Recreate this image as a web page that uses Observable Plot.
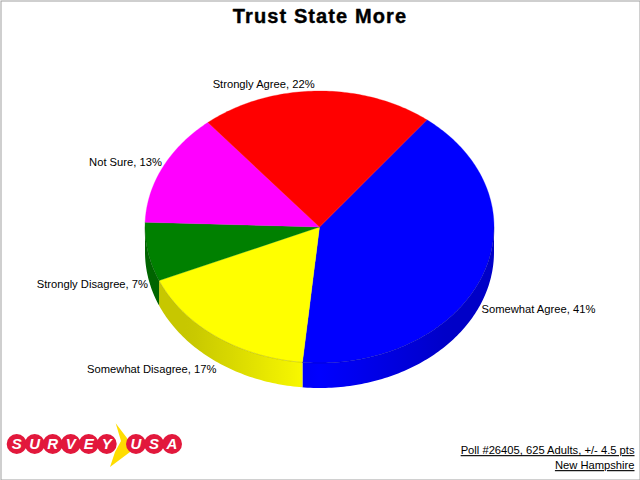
<!DOCTYPE html>
<html>
<head>
<meta charset="utf-8">
<script src="https://cdn.jsdelivr.net/npm/d3@7"></script>
<script src="https://cdn.jsdelivr.net/npm/@observablehq/plot@0.6"></script>
<style>
html, body { margin: 0; padding: 0; background: #fff; }
svg { display: block; }
</style>
</head>
<body>
<div id="chart"></div>
<script>
// ---- data ----
const categories = ["Somewhat Agree", "Somewhat Disagree", "Strongly Disagree", "Not Sure", "Strongly Agree"];
const values = [41, 17, 7, 13.4, 21.6];
const sliceColors = ["#0000ff", "#ffff00", "#008000", "#ff00ff", "#ff0000"];
const chartTitle = "Trust State More";
const footerLines = ["Poll #26405, 625 Adults, +/- 4.5 pts", "New Hampshire"];
const logoWord1 = ["S", "U", "R", "V", "E", "Y"];
const logoWord2 = ["U", "S", "A"];

// ---- pie geometry ----
const cx = 319, cy = 226.5, rx = 174.5, ry = 136, depth = 25, startDeg = 38;
const labelFont = "Liberation Sans, Arial, sans-serif";
const labelSize = 11.2, labelGap = 3;
const pt = (deg, dy = 0) => {
  const a = deg * Math.PI / 180;
  return {x: cx + rx * Math.sin(a), y: cy - ry * Math.cos(a) + dy};
};
const range = (a, b) => {
  const out = [];
  for (let d = a; d < b; d += 1) out.push(d);
  out.push(b);
  return out;
};

const total = d3.sum(values);
let acc = startDeg;
let labelAcc = startDeg;
const slices = categories.map((name, i) => {
  const a0 = acc;
  const a1 = acc + values[i] / total * 360;
  acc = a1;
  const shown = Math.round(values[i]);
  const mid = labelAcc + shown / 100 * 180;
  labelAcc += shown / 100 * 360;
  return {name, value: values[i], shown, color: sliceColors[i], a0, a1, mid};
});

const topPoints = slices.flatMap(s => [
  {name: s.name, x: cx, y: cy},
  ...range(s.a0, s.a1).map(d => ({name: s.name, ...pt(d)}))
]);

// walls: only the part of each slice that faces the viewer (90..270 degrees)
const wallOf = s => {
  const a = Math.max(s.a0, 90), b = Math.min(s.a1, 270);
  if (a >= b) return null;
  const arc = range(a, b);
  return [...arc.map(d => pt(d)), ...arc.slice().reverse().map(d => pt(d, depth))];
};
const rimOf = s => {
  const a = Math.max(s.a0, 90), b = Math.min(s.a1, 270);
  return a < b ? range(a, b).map(d => pt(d)) : [];
};

const shade = (color, deg) => {
  const k = 1 - 0.22 * Math.min(1, 1.35 * Math.abs(Math.sin(deg * Math.PI / 180)));
  const c = d3.rgb(color);
  return d3.rgb(c.r * k, c.g * k, c.b * k).formatHex();
};

const walls = slices.map((s, i) => ({s, i, pts: wallOf(s)})).filter(d => d.pts);

const gradients = () => {
  const defs = d3.create("svg:defs");
  walls.forEach(({s, i}) => {
    const a = Math.max(s.a0, 90), b = Math.min(s.a1, 270);
    const g = defs.append("linearGradient")
      .attr("id", "wall" + i)
      .attr("gradientUnits", "userSpaceOnUse")
      .attr("x1", pt(a).x).attr("x2", pt(b).x).attr("y1", 0).attr("y2", 0);
    range(a, b).filter((d, j) => j % 5 === 0).forEach(d => {
      g.append("stop")
        .attr("offset", (pt(d).x - pt(a).x) / (pt(b).x - pt(a).x))
        .attr("stop-color", shade(s.color, d));
    });
    g.append("stop").attr("offset", 1).attr("stop-color", shade(s.color, b));
  });
  return defs.node();
};

// labels are attached to the pie's rim at each slice's mid angle
const labels = slices.map(s => {
  const lower = Math.cos(s.mid * Math.PI / 180) < 0;
  const p = pt(s.mid, lower ? depth + labelGap : -labelGap);
  return {text: `${s.name}, ${s.shown}%`, x: p.x, y: p.y, lower, right: Math.sin(s.mid * Math.PI / 180) > 0};
});
const labelMark = (filter, lineAnchor, textAnchor) => Plot.text(labels.filter(filter), {
  x: "x", y: "y", text: "text", lineAnchor, textAnchor,
  fontFamily: labelFont, fontSize: labelSize, fill: "#000"
});

// logo
const logoStep = 18, logoX0 = 16.2, logoX1 = 135.5, logoY = 443.5;
const logoLetters = [
  ...logoWord1.map((t, i) => ({t, x: logoX0 + i * logoStep})),
  ...logoWord2.map((t, i) => ({t, x: logoX1 + i * logoStep}))
];
const logoBolt = [
  {x: 115.2, y: 422.8}, {x: 129.5, y: 441.5}, {x: 129.5, y: 451.5},
  {x: 109.5, y: 466.5}, {x: 114.5, y: 451.5}, {x: 120.5, y: 440.5}
];

const underline = (index, scales, channels, dimensions, context, next) => {
  const g = next(index, scales, channels, dimensions, context);
  d3.select(g).selectAll("text").style("text-decoration", "underline");
  return g;
};
const spaced = (index, scales, channels, dimensions, context, next) => {
  const g = next(index, scales, channels, dimensions, context);
  d3.select(g).selectAll("text").style("letter-spacing", "1.1px");
  return g;
};

const chart = Plot.plot({
  width: 640,
  height: 480,
  margin: 0,
  x: {domain: [0, 640], range: [0, 640], axis: null},
  y: {domain: [0, 480], range: [0, 480], axis: null},
  color: {domain: categories, range: sliceColors},
  style: {background: "#fff"},
  marks: [
    gradients,
    Plot.frame({stroke: "#a0a0a0", strokeWidth: 1, inset: 0.5}),
    ...walls.map(({i, pts}) => Plot.line(pts, {
      x: "x", y: "y", curve: "linear-closed", fill: `url(#wall${i})`, stroke: "none"
    })),
    Plot.line(topPoints, {
      x: "x", y: "y", z: "name", fill: "name", stroke: "name", strokeWidth: 0.3, curve: "linear-closed"
    }),
    ...slices.filter(s => rimOf(s).length).map(s => Plot.line(rimOf(s), {
      x: "x", y: "y", stroke: "#000", strokeOpacity: 0.25, strokeWidth: 0.6
    })),
    labelMark(d => !d.lower && !d.right, "bottom", "end"),
    labelMark(d => !d.lower && d.right, "bottom", "start"),
    labelMark(d => d.lower && !d.right, "top", "end"),
    labelMark(d => d.lower && d.right, "top", "start"),
    Plot.text([chartTitle], {
      x: () => 319.5, y: () => 16, text: d => d,
      fontFamily: labelFont, fontSize: 20, fontWeight: "bold", fill: "#000",
      stroke: "#000", strokeWidth: 0.4, render: spaced
    }),
    Plot.text(footerLines, {
      x: () => 634, y: (d, i) => 450 + i * 15, text: d => d, textAnchor: "end",
      fontFamily: labelFont, fontSize: labelSize, fill: "#000", render: underline
    }),
    Plot.line(logoBolt, {x: "x", y: "y", curve: "linear-closed", fill: "#ffdd00", stroke: "none"}),
    Plot.dot(logoLetters, {x: "x", y: () => logoY, r: 10, fill: "#e2183c", stroke: "none"}),
    Plot.text(logoLetters, {
      x: "x", y: () => logoY, text: "t",
      fontFamily: labelFont, fontSize: 15, fontWeight: "bold", fontStyle: "italic", fill: "#fff"
    })
  ]
});
document.getElementById("chart").append(chart);
</script>
</body>
</html>
